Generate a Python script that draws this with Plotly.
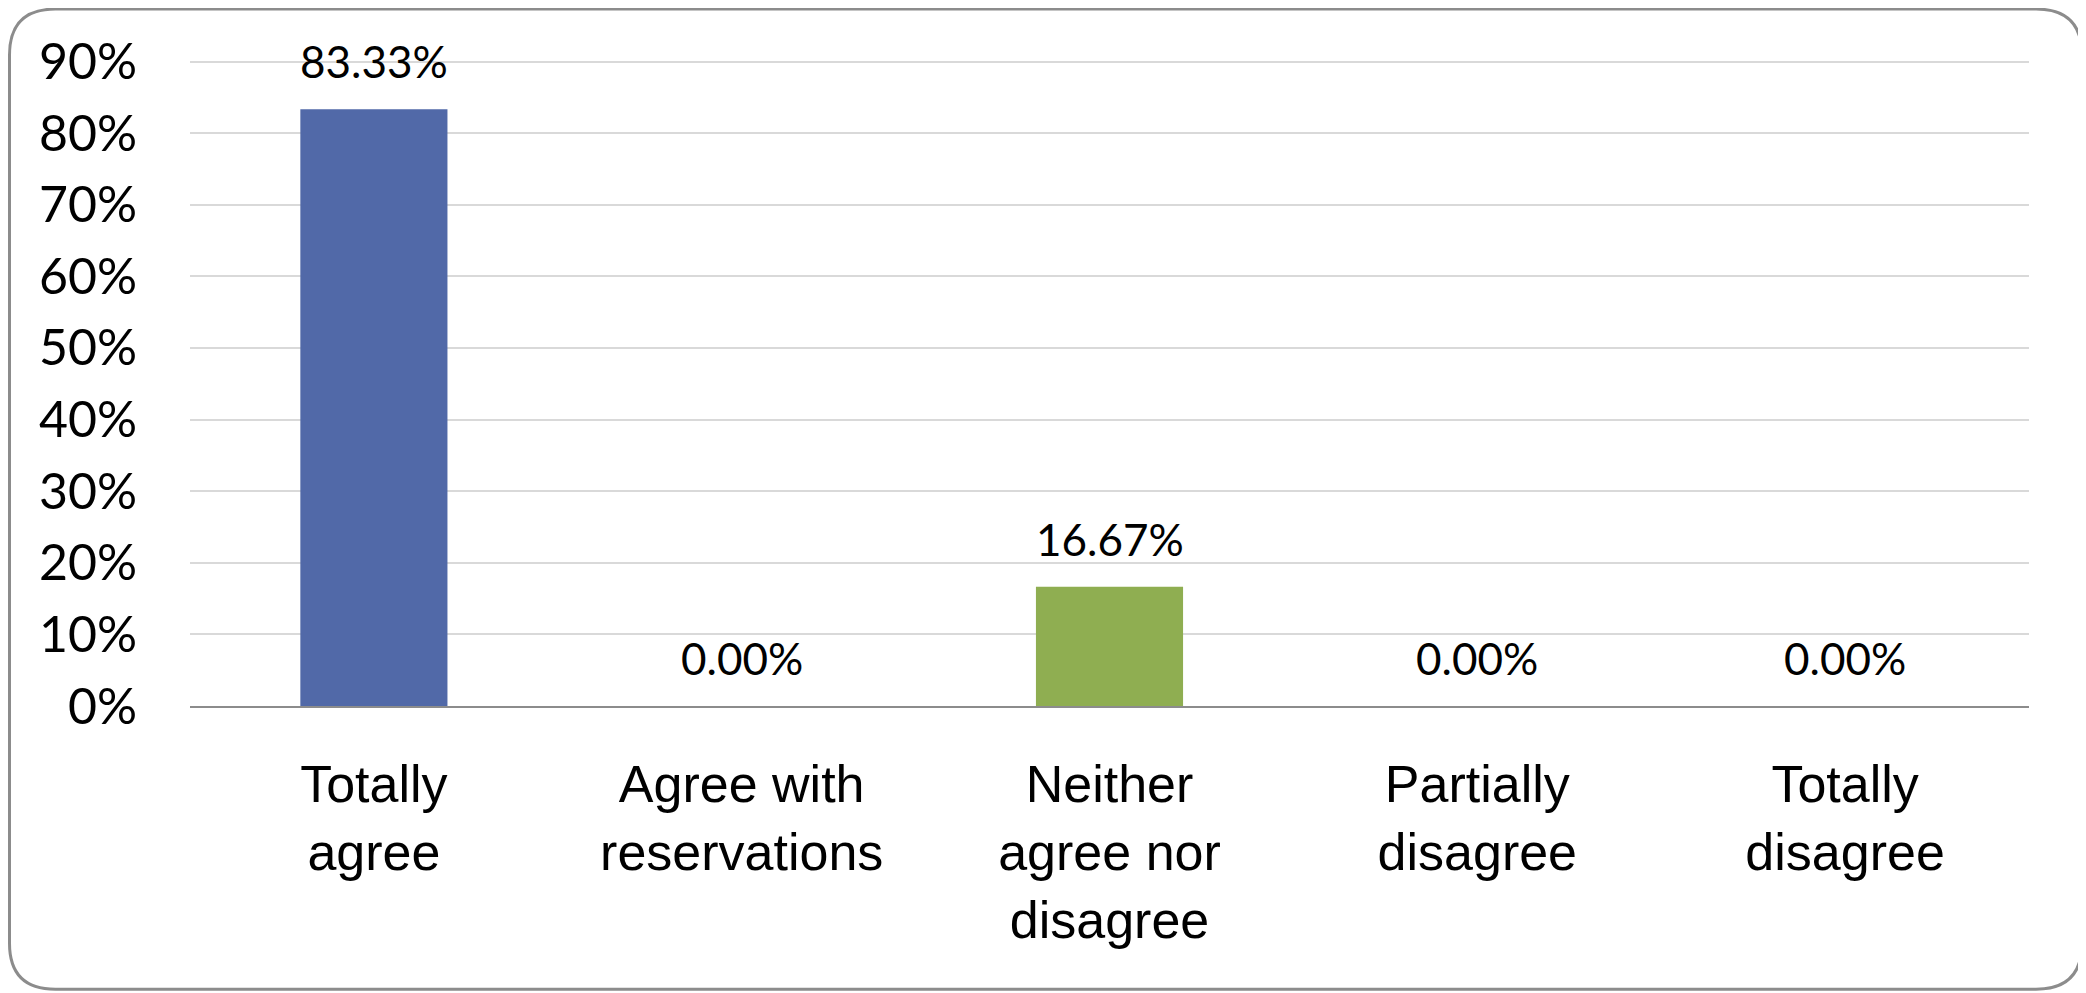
import plotly.graph_objects as go

categories = ["Totally<br>agree", "Agree with<br>reservations", "Neither<br>agree nor<br>disagree",
              "Partially<br>disagree", "Totally<br>disagree"]
values = [83.33, 0.0, 16.67, 0.0, 0.0]
bar_colors = ["#5169A8", "#C0504D", "#8FAE51", "#8064A2", "#4BACC6"]
y_ticks = [0, 10, 20, 30, 40, 50, 60, 70, 80, 90]
y_ticktext = [f"{t}%" for t in y_ticks]

# page has an 8px body margin, so figure coords = page coords - 8
OFF = 8
W, H = 2086 - OFF, 993 - OFF
Y_MAX = 90.5
plot_left, plot_right, axis_y, grid90_y = 190 - OFF, 2029 - OFF, 706 - OFF, 62 - OFF
unit = (axis_y - grid90_y) / 90.0
plot_top = axis_y - unit * Y_MAX
ML, MR, MT, MB = plot_left, W - plot_right, plot_top, H - axis_y
PW, PH = W - ML - MR, H - MT - MB

fig = go.Figure()
fig.add_trace(go.Bar(
    x=categories, y=values, marker=dict(color=bar_colors, line=dict(width=0)),
    hoverinfo="skip", showlegend=False,
))

for c, v in zip(categories, values):
    fig.add_annotation(x=c, y=v, text=f"{v:.2f}%", showarrow=False,
                       yanchor="bottom", yshift=20,
                       font=dict(family="Lato", size=44, color="#000000"))

# rounded outer frame in paper coords
def px(x):
    return (x - ML) / PW
def py(y):
    return (H - MB - y) / PH
x0, x1, y0, y1, r = 1.5, 2082 - OFF, 1.5, 989 - OFF, 46
path = (f"M {px(x0+r)},{py(y0)} L {px(x1-r)},{py(y0)} Q {px(x1)},{py(y0)} {px(x1)},{py(y0+r)} "
        f"L {px(x1)},{py(y1-r)} Q {px(x1)},{py(y1)} {px(x1-r)},{py(y1)} "
        f"L {px(x0+r)},{py(y1)} Q {px(x0)},{py(y1)} {px(x0)},{py(y1-r)} "
        f"L {px(x0)},{py(y0+r)} Q {px(x0)},{py(y0)} {px(x0+r)},{py(y0)} Z")
fig.add_shape(type="path", path=path, xref="paper", yref="paper",
              line=dict(color="#8C8C8C", width=3), fillcolor="rgba(0,0,0,0)", layer="below")

fig.update_layout(
    width=W, height=H,
    margin=dict(l=ML, r=MR, t=MT, b=MB, pad=0, autoexpand=False),
    paper_bgcolor="white", plot_bgcolor="white",
    bargap=0.6,
    xaxis=dict(showgrid=False, showline=True, linecolor="#8C8C8C", linewidth=2,
               ticks="", tickfont=dict(family="Liberation Sans, Arial", size=52, color="#000000"),
               ticklabelstandoff=32, fixedrange=True, automargin=False),
    yaxis=dict(range=[0, Y_MAX], tickvals=y_ticks, ticktext=y_ticktext, showgrid=True,
               gridcolor="#D9D9D9", gridwidth=2, zeroline=False, showline=False,
               ticks="", tickfont=dict(family="Lato", size=50, color="#000000"),
               ticklabelstandoff=52, fixedrange=True, automargin=False),
)

fig.write_html("out.html")
